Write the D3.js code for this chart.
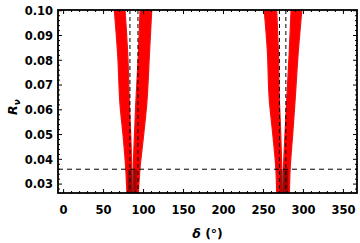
<!DOCTYPE html>
<html>
<head>
<meta charset="utf-8">
<script src="https://cdn.jsdelivr.net/npm/d3@7"></script>
<style>
  body { margin: 0; background: #fff; }
  svg { display: block; }
  .tick-label { font-family: "DejaVu Sans", sans-serif; font-weight: bold; font-size: 11.5px; }
</style>
</head>
<body>
<div id="chart"></div>
<script>
// plot size
var width = 360,
    height = 243;

var margin = {left: 58, right: 3, top: 10, bottom: 50};

// data
// Rv levels at which the band edges were read
var rv_left_pair = [0.1, 0.082, 0.062, 0.0486, 0.0365, 0.0264];
var lobe_a_min = [63.5, 67.7, 70.6, 74.7, 77.7, 79.2];
var lobe_a_max = [76.9, 80.3, 82.3, 84.1, 85.3, 86.0];
var lobe_b_min = [95.6, 93.5, 90.2, 88.5, 87.2, 87.0];
var lobe_b_max = [110.2, 107.3, 103.9, 99.7, 95.6, 93.5];

var rv_right_pair = [0.1, 0.0842, 0.064, 0.0506, 0.0357, 0.0264];
var lobe_c_min = [251.0, 254.8, 257.3, 261.5, 265.6, 266.5];
var lobe_c_max = [266.6, 268.6, 269.9, 271.6, 272.9, 273.3];
var lobe_d_min = [284.5, 282.4, 279.1, 277.0, 274.9, 274.2];
var lobe_d_max = [297.9, 293.7, 289.6, 286.7, 283.3, 282.4];

// reference lines
var delta_lines = [83, 93, 270, 278];
var rv_line = 0.036;

// shaded boxes below the Rv line
var box_delta = [[80.3, 91.6], [271, 281]];

var x_ticks = [0, 50, 100, 150, 200, 250, 300, 350];
var y_ticks = [0.03, 0.04, 0.05, 0.06, 0.07, 0.08, 0.09, 0.10];

var svg = d3.select("#chart").append("svg")
  .attr("width", width)
  .attr("height", height);

var x = d3.scaleLinear()
  .domain([-7, 367])
  .range([margin.left, width - margin.right]);

var y = d3.scaleLinear()
  .domain([0.0264, 0.1003])
  .range([height - margin.bottom, margin.top]);

var clip = svg.append("clipPath").attr("id", "clip")
  .append("rect")
  .attr("x", x.range()[0]).attr("y", y.range()[1])
  .attr("width", x.range()[1] - x.range()[0])
  .attr("height", y.range()[0] - y.range()[1]);

var plot = svg.append("g").attr("clip-path", "url(#clip)");

function lobe(rv, lo, hi) {
  return rv.map(function(r, i) { return {rv: r, lo: lo[i], hi: hi[i]}; });
}

var lobes = [
  lobe(rv_left_pair, lobe_a_min, lobe_a_max),
  lobe(rv_left_pair, lobe_b_min, lobe_b_max),
  lobe(rv_right_pair, lobe_c_min, lobe_c_max),
  lobe(rv_right_pair, lobe_d_min, lobe_d_max)
];

var area = d3.area()
  .y(function(d) { return y(d.rv); })
  .x0(function(d) { return x(d.lo); })
  .x1(function(d) { return x(d.hi); })
  .curve(d3.curveMonotoneY);

plot.selectAll("path.band")
  .data(lobes).enter()
  .append("path")
  .attr("class", "band")
  .attr("d", area)
  .attr("fill", "#ff0000")
  .attr("stroke", "#f31010")
  .attr("stroke-width", 1.2)
  .attr("stroke-linejoin", "round");

// grey region below Rv line
plot.selectAll("rect.box")
  .data(box_delta).enter()
  .append("rect")
  .attr("class", "box")
  .attr("x", function(d) { return x(d[0]); })
  .attr("width", function(d) { return x(d[1]) - x(d[0]); })
  .attr("y", y(rv_line))
  .attr("height", y(y.domain()[0]) - y(rv_line))
  .attr("fill", "#000")
  .attr("fill-opacity", 0.33);

// dashed lines
plot.selectAll("line.vdash")
  .data(delta_lines).enter()
  .append("line")
  .attr("x1", function(d) { return x(d); })
  .attr("x2", function(d) { return x(d); })
  .attr("y1", y.range()[1])
  .attr("y2", y.range()[0])
  .attr("stroke", "#000")
  .attr("stroke-width", 1)
  .attr("stroke-dasharray", "4,3");

plot.append("line")
  .attr("x1", x.range()[0])
  .attr("x2", x.range()[1])
  .attr("y1", y(rv_line))
  .attr("y2", y(rv_line))
  .attr("stroke", "#000")
  .attr("stroke-width", 1)
  .attr("stroke-dasharray", "5,4");

// frame ticks (inward, on all four sides)
var x_minor = d3.range(0, 370, 10);
var y_minor = d3.range(0.028, 0.1001, 0.002);
var gT = svg.append("g").attr("stroke", "#000").attr("stroke-width", 1);

function xTick(v, len) {
  var px = x(v);
  gT.append("line").attr("x1", px).attr("x2", px)
    .attr("y1", y.range()[0]).attr("y2", y.range()[0] - len);
  gT.append("line").attr("x1", px).attr("x2", px)
    .attr("y1", y.range()[1]).attr("y2", y.range()[1] + len);
}
function yTick(v, len) {
  var py = y(v);
  gT.append("line").attr("y1", py).attr("y2", py)
    .attr("x1", x.range()[0]).attr("x2", x.range()[0] + len);
  gT.append("line").attr("y1", py).attr("y2", py)
    .attr("x1", x.range()[1]).attr("x2", x.range()[1] - len);
}
x_minor.forEach(function(v) { xTick(v, v % 50 == 0 ? 4 : 2); });
y_minor.forEach(function(v) {
  var major = Math.abs(Math.round(v * 100) - v * 100) < 1e-6;
  yTick(v, major ? 4 : 2);
});

// frame
svg.append("rect")
  .attr("x", x.range()[0]).attr("y", y.range()[1])
  .attr("width", x.range()[1] - x.range()[0])
  .attr("height", y.range()[0] - y.range()[1])
  .attr("fill", "none")
  .attr("stroke", "#000")
  .attr("stroke-width", 1.8);

// tick labels
svg.selectAll("text.xl")
  .data(x_ticks).enter()
  .append("text")
  .attr("class", "tick-label")
  .attr("x", function(d) { return x(d); })
  .attr("y", 214)
  .attr("text-anchor", "middle")
  .text(function(d) { return d; });

var fmt = d3.format(".2f");
svg.selectAll("text.yl")
  .data(y_ticks).enter()
  .append("text")
  .attr("class", "tick-label")
  .attr("x", 53)
  .attr("y", function(d) { return y(d) + 4.3; })
  .attr("text-anchor", "end")
  .text(function(d) { return fmt(d); });

// axis titles
var xt = svg.append("text")
  .attr("x", 207.5)
  .attr("y", 238)
  .attr("text-anchor", "middle")
  .style("font-family", "'DejaVu Sans', sans-serif")
  .style("font-size", "12.5px")
  .style("font-weight", "bold");
xt.append("tspan").style("font-style", "italic").text("δ");
xt.append("tspan").text(" (°)");

var yt = svg.append("text")
  .attr("transform", "translate(17,107) rotate(-90)")
  .attr("text-anchor", "middle")
  .style("font-family", "'DejaVu Sans', sans-serif")
  .style("font-size", "12.5px")
  .style("font-weight", "bold");
yt.append("tspan").style("font-style", "italic").text("R");
yt.append("tspan").style("font-style", "italic").style("font-size", "9px")
  .attr("dy", 3).text("ν");
</script>
</body>
</html>
